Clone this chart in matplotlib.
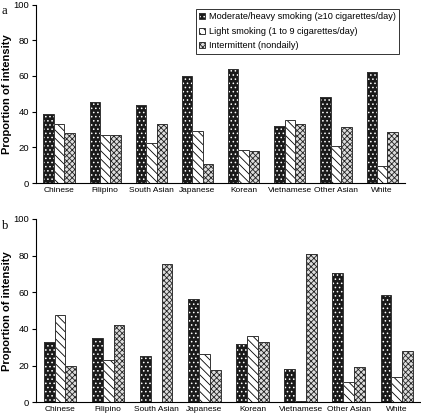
import numpy as np
import matplotlib.pyplot as plt
from matplotlib.patches import Patch

plt.rcParams['font.family'] = ['Liberation Sans', 'DejaVu Sans']
plt.rcParams['hatch.linewidth'] = 0.6

groups = ['Chinese', 'Filipino', 'South Asian', 'Japanese', 'Korean',
          'Vietnamese', 'Other Asian', 'White']
labels = ['Moderate/heavy smoking (\u226510 cigarettes/day)',
          'Light smoking (1 to 9 cigarettes/day)',
          'Intermittent (nondaily)']

# panel a
heavy_a = [38.4, 45.5, 43.6, 60.1, 63.7, 31.8, 48.1, 62.2]
light_a = [32.8, 27.0, 22.7, 29.2, 18.4, 35.2, 20.8, 9.4]
inter_a = [28.3, 27.0, 33.3, 10.5, 17.8, 33.0, 31.3, 28.5]
# panel b
heavy_b = [32.7, 35.1, 25.3, 56.2, 31.6, 18.4, 70.5, 58.7]
light_b = [47.5, 23.3, 0.0, 26.5, 36.0, 0.7, 10.9, 14.0]
inter_b = [20.0, 42.0, 75.3, 17.5, 32.7, 81.1, 19.1, 27.8]

# fill, hatch colour, hatch
styles = [('#1a1a1a', 'white', '....'),
          ('white', 'black', '\\\\\\\\'),
          ('#dddddd', '#222222', 'xxxxxx')]

fig = plt.figure(figsize=(4.21, 4.15), dpi=100)
ax_a = fig.add_axes([0.0855, 0.559, 0.877, 0.43])
ax_b = fig.add_axes([0.0855, 0.0306, 0.914, 0.4417])

w = 0.225
x = np.arange(len(groups))


def draw(ax, series, panel):
    for k, (vals, (fc, hc, h)) in enumerate(zip(series, styles)):
        pos = x + (k - 1) * w
        ax.bar(pos, vals, w, color=fc, edgecolor=hc, hatch=h, linewidth=0)
        ax.bar(pos, vals, w, fill=False, edgecolor='#333333', linewidth=0.7)
    ax.set_xlim(-0.5, len(groups) - 0.5)
    ax.set_ylim(0, 100)
    ax.set_yticks(range(0, 101, 20))
    ax.set_xticks(x)
    ax.set_xticklabels(groups, fontsize=6.0)
    ax.tick_params(axis='x', length=0, pad=3)
    ax.tick_params(axis='y', labelsize=6.8, length=3, width=0.8, pad=2)
    for s in ['top', 'right']:
        ax.spines[s].set_visible(False)
    for s in ['left', 'bottom']:
        ax.spines[s].set_linewidth(0.8)
    ax.set_ylabel('Proportion of intensity', fontsize=8.0, fontweight='bold')
    # right edge of the rotated label about 12 px from the figure edge
    pos_ax = ax.get_position()
    ax.yaxis.set_label_coords((12.5 / 421 - pos_ax.x0) / pos_ax.width, 0.5)
    fig.text(0.004, pos_ax.y1 - 0.002, panel, fontsize=9,
             family=['Liberation Serif', 'DejaVu Serif'], va='top')


draw(ax_b, [heavy_b, light_b, inter_b], 'b')
draw(ax_a, [heavy_a, light_a, inter_a], 'a')

# legend proxies with the patterns
proxies = [(Patch(facecolor=fc, edgecolor=hc, hatch=h, linewidth=0),
            Patch(fill=False, edgecolor='#333333', linewidth=0.7)) for fc, hc, h in styles]
leg = ax_a.legend(proxies, labels, loc='upper right', bbox_to_anchor=(0.948, 0.979),
                  bbox_transform=fig.transFigure, fontsize=6.6, frameon=True,
                  fancybox=False, edgecolor='black', handlelength=0.6, handleheight=0.6,
                  handletextpad=0.4, labelspacing=0.6, borderpad=0.4, borderaxespad=0)
leg.get_frame().set_linewidth(0.7)

fig.savefig('out.png', dpi=100)
